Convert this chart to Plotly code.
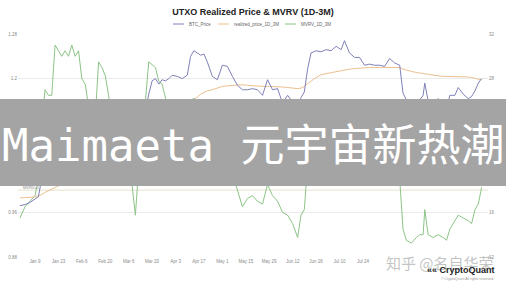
import plotly.graph_objects as go

# ---------------- data ----------------
dates = (
    ["2022-12-31"]
    + ["2023-01-%02d" % d for d in [3, 6, 9, 11, 13, 15, 17, 19, 21, 23, 25, 27, 29, 31]]
    + ["2023-02-%02d" % d for d in [2, 4, 6, 8, 10, 12, 14, 16, 18, 20, 22, 24, 27]]
    + ["2023-03-%02d" % d for d in [2, 5, 8, 10, 12, 14, 16, 18, 20, 22, 24, 26, 28, 30]]
    + ["2023-04-%02d" % d for d in [1, 4, 7, 10, 12, 14, 16, 18, 20, 22, 25, 28]]
    + ["2023-05-%02d" % d for d in [1, 4, 7, 10, 13, 16, 19, 22, 25, 28, 31]]
    + ["2023-06-%02d" % d for d in [3, 6, 9, 12, 15, 17, 19, 21, 23, 26, 29]]
    + ["2023-07-%02d" % d for d in [2, 5, 8, 11, 13, 16, 19, 22, 25, 28, 31]]
    + ["2023-08-%02d" % d for d in [3, 6, 9, 12, 15, 17, 19, 22, 25, 27, 29, 30]]
    + ["2023-09-%02d" % d for d in [1, 4, 7, 10, 12, 14, 17, 19, 22, 25, 27, 29]]
    + ["2023-10-%02d" % d for d in [1, 3]]
)

# BTC price, thousands of USD (right axis)
btc_price = [
    16.6,
    16.7, 16.9, 17.2, 17.4, 19.0, 20.9, 21.1, 20.7, 22.7, 22.9, 23.0, 23.1, 23.7, 23.1,
    23.7, 23.3, 22.8, 23.2, 21.6, 21.8, 22.2, 23.5, 24.6, 24.8, 24.2, 23.2, 23.5,
    23.5, 22.4, 21.7, 20.2, 22.1, 24.8, 25.0, 26.6, 27.8, 28.0, 27.5, 27.9, 27.8, 28.0,
    28.3, 28.2, 28.0, 28.3, 30.0, 30.5, 30.3, 30.1, 30.2, 29.5, 28.2, 27.9,
    29.2, 29.1, 28.2, 27.4, 27.0, 27.0, 27.1, 27.0, 26.5, 27.9, 27.0,
    27.1, 25.8, 26.5, 25.9, 25.1, 26.3, 26.8, 28.9, 30.3, 30.5, 30.4,
    30.6, 30.5, 30.9, 30.6, 31.4, 30.3, 29.9, 29.9, 29.2, 29.3, 29.2,
    29.2, 29.1, 29.8, 29.4, 29.2, 26.7, 26.1, 26.0, 26.1, 26.1, 26.5, 27.6,
    26.0, 25.8, 26.2, 25.8, 25.3, 26.5, 26.5, 27.2, 26.6, 26.2, 26.4, 26.9,
    27.6, 28.0,
]

# Realized price of 1D-3M UTXOs, thousands of USD (right axis)
realized_price = [
    17.3,
    17.3, 17.35, 17.4, 17.5, 17.6, 17.8, 17.95, 18.1, 18.25, 18.4, 18.5, 18.65, 18.8, 18.95,
    19.1, 19.25, 19.4, 19.5, 19.6, 19.7, 19.8, 19.95, 20.1, 20.3, 20.45, 20.6, 20.8,
    20.95, 21.1, 21.2, 21.25, 21.3, 21.5, 21.8, 22.2, 22.6, 23.0, 23.4, 23.7, 24.0, 24.3,
    24.6, 25.0, 25.3, 25.6, 25.9, 26.1, 26.35, 26.6, 26.75, 26.9, 27.0, 27.15,
    27.3, 27.35, 27.4, 27.45, 27.45, 27.4, 27.35, 27.35, 27.3, 27.3, 27.3,
    27.3, 27.25, 27.2, 27.15, 27.1, 27.15, 27.3, 27.55, 27.8, 28.1, 28.35,
    28.45, 28.55, 28.6, 28.7, 28.75, 28.85, 28.9, 28.95, 29.0, 29.0, 29.0,
    29.0, 29.05, 29.05, 29.05, 29.0, 28.85, 28.75, 28.65, 28.55, 28.5, 28.45, 28.4,
    28.35, 28.3, 28.25, 28.2, 28.2, 28.2, 28.2, 28.2, 28.2, 28.15, 28.1, 28.0,
    27.95, 27.9,
]

# MVRV 1D-3M (left axis)
mvrv = [
    0.95,
    0.97, 0.98, 0.99, 1.02, 1.12, 1.18, 1.17, 1.17, 1.26, 1.25, 1.24, 1.25, 1.24, 1.26,
    1.24, 1.25, 1.20, 1.19, 1.15, 1.11, 1.13, 1.23, 1.22, 1.205, 1.17, 1.12, 1.13,
    1.12, 1.06, 1.01, 0.955, 1.04, 1.15, 1.16, 1.23, 1.225, 1.22, 1.195, 1.19, 1.165, 1.15,
    1.15, 1.13, 1.11, 1.11, 1.16, 1.165, 1.15, 1.13, 1.12, 1.09, 1.04, 1.03,
    1.06, 1.06, 1.03, 1.00, 0.97, 0.985, 0.99, 0.98, 0.975, 1.01, 0.99,
    0.98, 0.96, 0.955, 0.94, 0.915, 0.955, 0.965, 1.05, 1.09, 1.085, 1.07,
    1.075, 1.07, 1.08, 1.065, 1.09, 1.05, 1.035, 1.035, 1.02, 1.02, 1.02,
    1.02, 1.02, 1.03, 1.02, 1.02, 0.93, 0.91, 0.905, 0.915, 0.92, 0.92, 0.965,
    0.92, 0.915, 0.92, 0.915, 0.91, 0.93, 0.945, 0.955, 0.95, 0.945, 0.94, 0.965,
    0.975, 1.005,
]

x_tick_dates = ["2023-01-09", "2023-01-23", "2023-02-06", "2023-02-20", "2023-03-06",
                "2023-03-20", "2023-04-03", "2023-04-17", "2023-05-01", "2023-05-15",
                "2023-05-29", "2023-06-12", "2023-06-26", "2023-07-10", "2023-07-24"]
x_tick_labels = ["Jan 9", "Jan 23", "Feb 6", "Feb 20", "Mar 6", "Mar 20", "Apr 3", "Apr 17",
                 "May 1", "May 15", "May 29", "Jun 12", "Jun 26", "Jul 10", "Jul 24"]
left_ticks = [0.88, 0.96, 1.04, 1.12, 1.2, 1.28]
right_ticks = [12, 16, 20, 24, 28, 32]

series_names = ["BTC_Price", "realized_price_1D_3M", "MVRV_1D_3M"]
series_colors = ["#7f80b9", "#ebc08f", "#8cc486"]

# ---------------- figure ----------------
W, H = 506, 285
ML, MR, MT, MB = 18, 18, 34, 28
PW, PH = W - ML - MR, H - MT - MB


def px_x(px):
    return (px - ML) / PW


def px_y(py):
    return (H - MB - py) / PH


fig = go.Figure()
fig.add_trace(go.Scatter(x=dates, y=mvrv, name=series_names[2], yaxis="y",
                         mode="lines", line=dict(color=series_colors[2], width=1)))
fig.add_trace(go.Scatter(x=dates, y=realized_price, name=series_names[1], yaxis="y2",
                         mode="lines", line=dict(color=series_colors[1], width=1)))
fig.add_trace(go.Scatter(x=dates, y=btc_price, name=series_names[0], yaxis="y2",
                         mode="lines", line=dict(color=series_colors[0], width=1)))

tick_font = dict(family="Liberation Sans, Arial", size=4.5, color="#8a8a8a")

shapes = [
    # MVRV = 1 reference line
    dict(type="line", xref="paper", yref="y", x0=0, x1=1, y0=1.0, y1=1.0,
         line=dict(color="#e6e2c8", width=1), layer="below"),
    # overlay banner
    dict(type="rect", xref="paper", yref="paper",
         x0=px_x(0), x1=px_x(W), y0=px_y(186), y1=px_y(99),
         fillcolor="#a4a4a4", line=dict(width=0), layer="above"),
]

annotations = [
    dict(text="MVRV=1", xref="paper", yref="paper", x=px_x(21), y=px_y(187),
         xanchor="left", yanchor="middle", showarrow=False,
         font=dict(family="Liberation Sans, Arial", size=4, color="#8a8a8a")),
    dict(text="Maimaeta 元宇宙新热潮", xref="paper", yref="paper",
         x=px_x(253), y=px_y(145), xanchor="center", yanchor="middle", showarrow=False,
         font=dict(family="DejaVu Sans Mono, Noto Sans CJK SC", size=44, color="#ffffff")),
    dict(text="知乎 @名自华荣", xref="paper", yref="paper",
         x=px_x(440), y=px_y(262), xanchor="center", yanchor="middle", showarrow=False,
         font=dict(family="Noto Sans CJK SC", size=15, color="rgba(185,185,185,0.85)")),
    dict(text="<b>«« CryptoQuant</b>", xref="paper", yref="paper",
         x=px_x(497), y=px_y(270), xanchor="right", yanchor="middle", showarrow=False,
         font=dict(family="Liberation Sans, Arial", size=9, color="#222222")),
    dict(text="© CryptoQuant All rights reserved.", xref="paper", yref="paper",
         x=px_x(496), y=px_y(279), xanchor="right", yanchor="middle", showarrow=False,
         font=dict(family="Liberation Sans, Arial", size=3.5, color="#9a9a9a")),
]

# manual compact legend
legend_items = [(173, 184, 187), (218, 229, 232), (285, 296, 299)]
for (sx0, sx1, tx), name, color in zip(legend_items, series_names, series_colors):
    shapes.append(dict(type="line", xref="paper", yref="paper",
                       x0=px_x(sx0), x1=px_x(sx1), y0=px_y(24), y1=px_y(24),
                       line=dict(color=color, width=1)))
    annotations.append(dict(text=name, xref="paper", yref="paper", x=px_x(tx), y=px_y(24),
                            xanchor="left", yanchor="middle", showarrow=False,
                            font=dict(family="Liberation Sans, Arial", size=4.5, color="#666666")))

fig.update_layout(
    width=W, height=H,
    margin=dict(l=ML, r=MR, t=MT, b=MB, autoexpand=False),
    paper_bgcolor="#ffffff", plot_bgcolor="#ffffff",
    showlegend=False,
    title=dict(text="<b>UTXO Realized Price & MVRV (1D-3M)</b>",
               x=0.5, xanchor="center", xref="container",
               y=1 - 12 / H, yanchor="middle", yref="container",
               font=dict(family="Liberation Sans, Arial", size=9, color="#222222")),
    xaxis=dict(type="date", range=["2022-12-29 20:00", "2023-10-06 19:00"],
               tickvals=x_tick_dates, ticktext=x_tick_labels, showgrid=False,
               showline=False, zeroline=False, ticks="", tickfont=tick_font),
    yaxis=dict(range=[0.88, 1.28], tickvals=left_ticks, showgrid=True,
               gridcolor="#ebebeb", gridwidth=1, zeroline=False, showline=False,
               ticks="", tickfont=tick_font),
    yaxis2=dict(range=[12, 32], tickvals=right_ticks, ticksuffix="K", overlaying="y",
                side="right", showgrid=False, zeroline=False, showline=False,
                ticks="", tickfont=tick_font),
    shapes=shapes,
    annotations=annotations,
)

fig.write_html("out.html")
